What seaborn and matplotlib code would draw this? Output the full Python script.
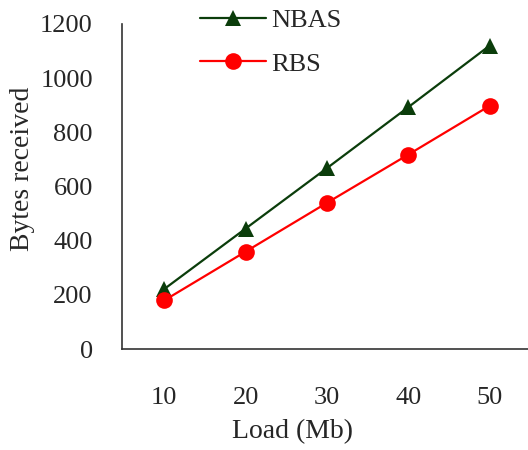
import pandas as pd
import matplotlib
matplotlib.use('Agg')
import matplotlib.pyplot as plt
import seaborn as sns

# Data
loads = ['10', '20', '30', '40', '50']
nbas = [222, 445, 668, 893, 1120]
rbs = [180, 360, 540, 718, 898]

df = pd.DataFrame({'Load': loads * 2,
                   'Bytes': nbas + rbs,
                   'Scheme': ['NBAS'] * 5 + ['RBS'] * 5})

sns.set_style('white')
plt.rcParams['font.family'] = ['Liberation Serif', 'DejaVu Serif']

fig = plt.figure(figsize=(5.28, 4.5), dpi=100)
ax = fig.add_axes([0.231, 0.224, 0.769, 0.723])

sns.lineplot(data=df, x='Load', y='Bytes', hue='Scheme', style='Scheme',
             markers={'NBAS': '^', 'RBS': 'o'}, dashes=False,
             palette={'NBAS': '#0b3d0b', 'RBS': '#ff0000'},
             markersize=12, markeredgewidth=0, linewidth=1.6, ax=ax)

ax.set_ylim(0, 1200)
ax.set_xlim(-0.52, 4.47)
ax.set_yticks(range(0, 1201, 200))
ax.set_xlabel('Load (Mb)', fontsize=20)
ax.set_ylabel('Bytes received', fontsize=20)
ax.xaxis.set_label_coords(0.42, -0.215)
ax.yaxis.set_label_coords(-0.215, 0.554)
ax.tick_params(axis='both', labelsize=19, length=0)
ax.tick_params(axis='x', pad=27)
ax.tick_params(axis='y', pad=21)
sns.despine(ax=ax)
for s in ['left', 'bottom']:
    ax.spines[s].set_color('#333333')
    ax.spines[s].set_linewidth(1.2)

ax.legend(title=None, frameon=False, fontsize=19, loc='upper left',
          bbox_to_anchor=(0.379, 0.98), bbox_transform=fig.transFigure,
          handlelength=2.5, labelspacing=0.75, handletextpad=0.2,
          borderpad=0, borderaxespad=0)

fig.savefig('out.png', dpi=100)
